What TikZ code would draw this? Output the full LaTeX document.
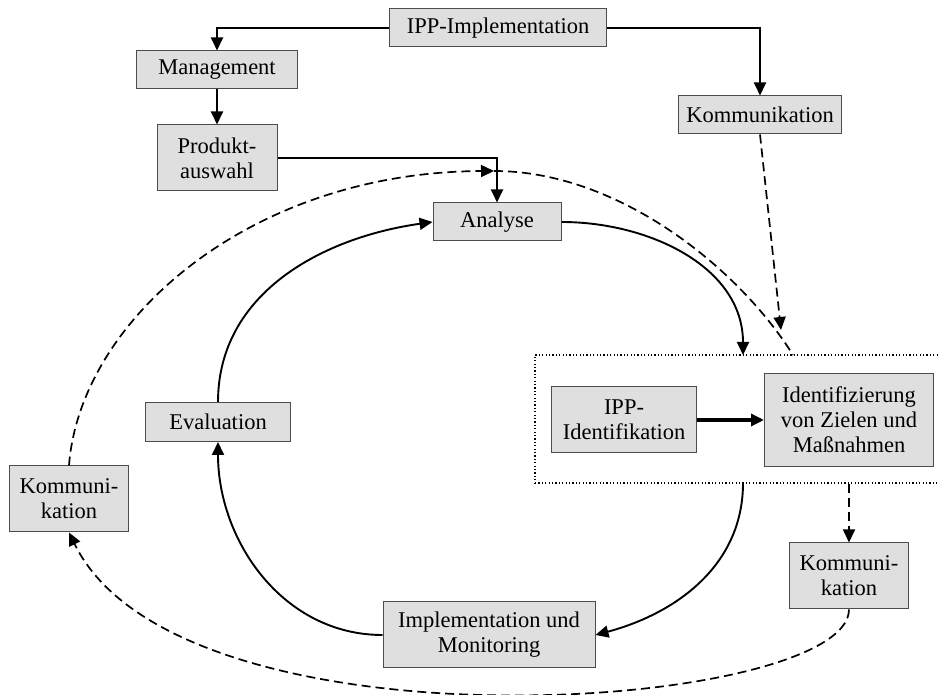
\documentclass[tikz,border=0pt]{standalone}
\usepackage{fontspec}
\setmainfont{Liberation Serif}
\usetikzlibrary{arrows.meta,positioning}

\begin{document}
\begin{tikzpicture}[x=1pt,y=1pt,font=\fontsize{22.5}{25}\selectfont,
 box/.style={draw=black!70,line width=1pt,fill=gray!25,inner sep=2pt,align=center},
 flow/.style={-{Triangle[length=13pt,width=12pt]},line width=1.9pt},
 dline/.style={line width=1.7pt,dash pattern=on 9pt off 5pt},
 dflow/.style={dline,-{Triangle[length=13pt,width=12pt]}}]
\useasboundingbox (0,0) rectangle (939,695);
\node[draw,line width=1.2pt,dash pattern=on 1.2pt off 2.2pt,minimum width=406pt,minimum height=128pt] (idbox) at (738,276) {};
\node[box,minimum width=217pt,minimum height=38pt] (impl) at (498,667) {IPP-Implementation};
\node[box,minimum width=161pt,minimum height=38pt] (mgmt) at (217,625) {Management};
\node[box,minimum width=120pt,minimum height=66pt] (prod) at (217,537) {Produkt-\\auswahl};
\node[box,minimum width=163pt,minimum height=38pt] (kommA) at (760,580) {Kommunikation};
\node[box,minimum width=128pt,minimum height=38pt] (analyse) at (497,473) {Analyse};
\node[box,minimum width=145pt,minimum height=66pt] (ippid) at (624,275) {IPP-\\Identifikation};
\node[box,minimum width=169pt,minimum height=93pt] (ziele) at (849,275) {Identifizierung\\von Zielen und\\Maßnahmen};
\node[box,minimum width=145pt,minimum height=39pt] (eval) at (218,273) {Evaluation};
\node[box,minimum width=119pt,minimum height=66pt] (kommL) at (69,196) {Kommuni-\\kation};
\node[box,minimum width=119pt,minimum height=66pt] (kommR) at (849,119) {Kommuni-\\kation};
\node[box,minimum width=212pt,minimum height=66pt] (implmon) at (489,60) {Implementation und\\Monitoring};
\coordinate (inA) at (743,340);
\coordinate (outA) at (743,212);
\coordinate (kommAend) at (781,365);
\coordinate (topA) at (494,524);
\coordinate (inB) at (793,340);
\draw[flow] (impl.west) -| (mgmt.north);
\draw[flow] (impl.east) -| (kommA.north);
\draw[flow] (mgmt) -- (prod);
\draw[flow] (prod.east) -| (analyse.north);
\draw[flow] (analyse.east) to[out=0,in=90] (inA);
\draw[flow,line width=3.5pt] (ippid) -- (ziele);
\draw[flow] (outA) to[out=-90,in=15] (implmon.east);
\draw[flow] (implmon.west) to[out=180,in=-90] (eval.south);
\draw[flow] (eval.north) to[out=90,in=188] (analyse.west);
\draw[dflow] (kommA.south) -- (kommAend);
\draw[dflow] (kommL.north) .. controls (80,375) and (250,523) .. (topA);
\draw[dline] (topA) .. controls (620,524) and (740,425) .. (inB);
\draw[dflow] (idbox.south -| kommR.north) -- (kommR.north);
\draw[dflow] (kommR.south) .. controls (849,-15) and (180,-65) .. (kommL.south);
\end{tikzpicture}
\end{document}
